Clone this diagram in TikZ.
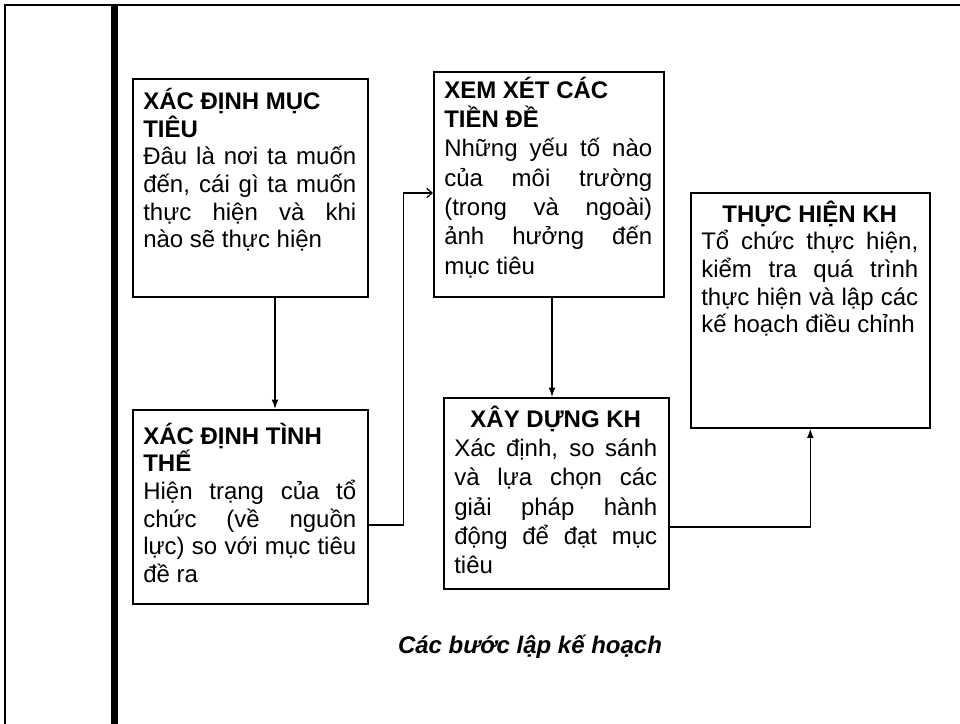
\documentclass[tikz,border=0pt]{standalone}
\usepackage{fontspec}
\setmainfont{Liberation Sans}
\usetikzlibrary{arrows.meta,calc}
\newcommand{\bxstart}{\parindent=0pt\rule{0pt}{18pt}}
\begin{document}
\begin{tikzpicture}[x=0.75pt,y=-0.75pt,
  box/.style={draw, line width=1.2pt, anchor=north west, inner sep=0pt},
  txt/.style={anchor=north west, inner sep=0pt, align=justify},
  fa/.style={font=\fontsize{18pt}{20.7pt}\selectfont},
  fb/.style={font=\fontsize{18pt}{22pt}\selectfont},
  conn/.style={line width=0.9pt},
  tipv/.style={-{Latex[length=7pt,width=5pt]}},
  tiph/.style={-{Straight Barb[length=4pt,width=7pt]}}]
\useasboundingbox (0,0) rectangle (960,724);
% frame
\draw[line width=1.5pt] (5,724) -- (5,5) -- (960,5);
\fill (111,5) rectangle (118,724);
% boxes
\node[box, minimum width=176.25pt, minimum height=163.5pt] (b1) at (132,78) {};
\node[box, minimum width=176.25pt, minimum height=145.5pt] (b2) at (132,409) {};
\node[box, minimum width=172.5pt, minimum height=168.75pt] (b3) at (433,71) {};
\node[box, minimum width=168.75pt, minimum height=143.25pt] (b4) at (443,397) {};
\node[box, minimum width=179.25pt, minimum height=176.25pt] (b5) at (690,192) {};
% texts
\node[txt, fa, text width=159.75pt] (t1) at (143,85.5) {\bxstart\textbf{XÁC ĐỊNH MỤC}\newline\textbf{TIÊU}\par
Đâu là nơi ta muốn\linebreak đến, cái gì ta muốn\linebreak thực hiện và khi\linebreak nào sẽ thực hiện};
\node[txt, fa, text width=159.75pt] (t2) at (143,420) {\bxstart\textbf{XÁC ĐỊNH TÌNH}\newline\textbf{THẾ}\par
Hiện trạng của tổ\linebreak chức (về nguồn\linebreak lực) so với mục tiêu\linebreak đề ra};
\node[txt, fb, text width=156pt] (t3) at (444,74) {\bxstart\textbf{XEM XÉT CÁC}\newline\textbf{TIỀN ĐỀ}\par
Những yếu tố nào\linebreak của môi trường\linebreak (trong và ngoài)\linebreak ảnh hưởng đến\linebreak mục tiêu};
\node[txt, fb, text width=152.25pt] (t4) at (454,403) {{\centering\bxstart\textbf{XÂY DỰNG KH}\par}
Xác định, so sánh\linebreak và lựa chọn các\linebreak giải pháp hành\linebreak động để đạt mục\linebreak tiêu};
\node[txt, fa, text width=162.75pt] (t5) at (701,198) {{\centering\bxstart\textbf{THỰC HIỆN KH}\par}
Tổ chức thực hiện,\linebreak kiểm tra quá trình\linebreak thực hiện và lập các\linebreak kế hoạch điều chỉnh};
% caption
\node[anchor=base, inner sep=0pt, font=\fontsize{18pt}{20pt}\selectfont\bfseries\itshape] (cap) at (530,653) {Các bước lập kế hoạch};
% connectors
\coordinate (c1) at ($(b1.south west)+(143,0)$);
\draw[conn, tipv] (c1) -- (c1 |- b2.north);
\draw[conn, tiph] ($(b2.north east)+(0,116)$) -- ++(35,0) |- ($(b3.north west)+(0,122)$);
\coordinate (c3) at ($(b3.south west)+(119,0)$);
\draw[conn, tipv] (c3) -- (c3 |- b4.north);
\draw[conn, tipv] ($(b4.north east)+(0,130)$) -| (b5.south);
\end{tikzpicture}
\end{document}
